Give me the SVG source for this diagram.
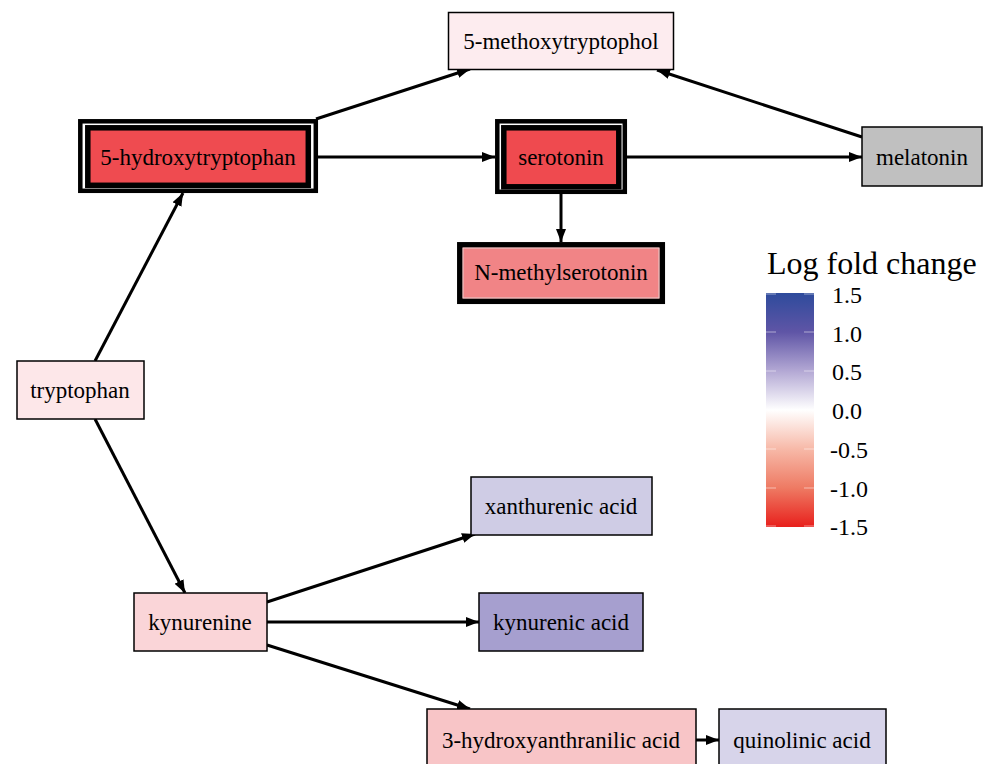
<svg xmlns="http://www.w3.org/2000/svg" width="997" height="764" viewBox="0 0 997 764">
<style>
.nb{stroke:#000;stroke-width:1.5}
.lbl{text-anchor:middle;dominant-baseline:central;font-size:46px}
.tk{dominant-baseline:central;font-size:48px}
.edge{stroke:#000;stroke-width:3;fill:none}
</style>
<defs>
<marker id="ah" markerUnits="userSpaceOnUse" markerWidth="14" markerHeight="12" viewBox="0 0 14 12" refX="13" refY="6" orient="auto">
<path d="M0,1 L13,6 L0,11 Z" fill="#000"/>
</marker>
<linearGradient id="lfc" x1="0" y1="0" x2="0" y2="1">
<stop offset="0" stop-color="#2e4b9c"/>
<stop offset="0.1667" stop-color="#5f55a6"/>
<stop offset="0.3333" stop-color="#b3a8d4"/>
<stop offset="0.5" stop-color="#ffffff"/>
<stop offset="0.6667" stop-color="#f7b9a8"/>
<stop offset="0.8333" stop-color="#ee7a63"/>
<stop offset="1" stop-color="#e8201c"/>
</linearGradient>
</defs>
<rect width="997" height="764" fill="#fff"/>
<g id="connectors">
<line class="edge" x1="316" y1="119" x2="470" y2="69" marker-end="url(#ah)"/>
<line class="edge" x1="862" y1="137" x2="657" y2="70" marker-end="url(#ah)"/>
<line class="edge" x1="318" y1="157" x2="495" y2="157" marker-end="url(#ah)"/>
<line class="edge" x1="627" y1="157" x2="862" y2="157" marker-end="url(#ah)"/>
<line class="edge" x1="561" y1="194" x2="561" y2="242" marker-end="url(#ah)"/>
<line class="edge" x1="95" y1="361" x2="183" y2="193" marker-end="url(#ah)"/>
<line class="edge" x1="95" y1="419" x2="185" y2="593" marker-end="url(#ah)"/>
<line class="edge" x1="267" y1="602" x2="475" y2="534" marker-end="url(#ah)"/>
<line class="edge" x1="267" y1="622" x2="479" y2="622" marker-end="url(#ah)"/>
<line class="edge" x1="267" y1="645" x2="470" y2="709" marker-end="url(#ah)"/>
<line class="edge" x1="696" y1="740" x2="719" y2="740" marker-end="url(#ah)"/>
</g>
<g font-family="Liberation Serif, Times New Roman, serif" fill="#000">
<g id="n-5methoxytryptophol">
<rect class="nb" x="448.5" y="12.5" width="225" height="57" fill="#fdecef"/>
<text class="lbl" transform="translate(561 41) scale(0.5)">5-methoxytryptophol</text>
</g>
<g id="n-5hydroxytryptophan">
<rect x="80.3" y="121.3" width="235.5" height="69.5" fill="#fff" stroke="#000" stroke-width="4.5"/>
<rect x="87.8" y="127.8" width="220.5" height="57.5" fill="#ef4b50" stroke="#000" stroke-width="5.5"/>
<text class="lbl" transform="translate(198 157) scale(0.5)">5-hydroxytryptophan</text>
</g>
<g id="n-serotonin">
<rect x="497.3" y="121.3" width="127.5" height="70.5" fill="#fff" stroke="#000" stroke-width="4.5"/>
<rect x="503.8" y="127.8" width="115" height="59" fill="#ef4a4f" stroke="#000" stroke-width="5.5"/>
<text class="lbl" transform="translate(561 157) scale(0.5)">serotonin</text>
</g>
<g id="n-melatonin">
<rect class="nb" x="862" y="127" width="120" height="59" fill="#c0c0c0"/>
<text class="lbl" transform="translate(922 157) scale(0.5)">melatonin</text>
</g>
<g id="n-nmethylserotonin">
<rect x="459.8" y="244.8" width="202.5" height="56.5" fill="#f18486" stroke="#000" stroke-width="5.5"/>
<rect x="463" y="248" width="196" height="50" fill="none" stroke="#e8e0e0" stroke-width="0.8"/>
<text class="lbl" transform="translate(561 272) scale(0.5)">N-methylserotonin</text>
</g>
<g id="n-tryptophan">
<rect class="nb" x="17" y="361" width="127" height="58" fill="#fde7e9"/>
<text class="lbl" transform="translate(80 390) scale(0.5)">tryptophan</text>
</g>
<g id="n-kynurenine">
<rect class="nb" x="134" y="593" width="133" height="58" fill="#fad5d8"/>
<text class="lbl" transform="translate(200 622) scale(0.5)">kynurenine</text>
</g>
<g id="n-xanthurenic">
<rect class="nb" x="471" y="477" width="181" height="58" fill="#cfcce5"/>
<text class="lbl" transform="translate(561 506) scale(0.5)">xanthurenic acid</text>
</g>
<g id="n-kynurenic">
<rect class="nb" x="479" y="593" width="164" height="58" fill="#a69fcf"/>
<text class="lbl" transform="translate(561 622) scale(0.5)">kynurenic acid</text>
</g>
<g id="n-3hydroxyanthranilic">
<rect class="nb" x="427" y="709" width="269" height="60" fill="#f8c5c7"/>
<text class="lbl" transform="translate(561 740) scale(0.5)">3-hydroxyanthranilic acid</text>
</g>
<g id="n-quinolinic">
<rect class="nb" x="719" y="709" width="167" height="60" fill="#d7d4ea"/>
<text class="lbl" transform="translate(802 740) scale(0.5)">quinolinic acid</text>
</g>
<g id="legend">
<text x="767" y="274" font-size="32">Log fold change</text>
<rect x="766" y="293" width="48" height="234" fill="url(#lfc)"/>
<g stroke="#fff" stroke-opacity="0.5" stroke-width="1">
<line x1="766" y1="294" x2="776" y2="294"/><line x1="804" y1="294" x2="814" y2="294"/>
<line x1="766" y1="332" x2="776" y2="332"/><line x1="804" y1="332" x2="814" y2="332"/>
<line x1="766" y1="371" x2="776" y2="371"/><line x1="804" y1="371" x2="814" y2="371"/>
<line x1="766" y1="410" x2="776" y2="410"/><line x1="804" y1="410" x2="814" y2="410"/>
<line x1="766" y1="449" x2="776" y2="449"/><line x1="804" y1="449" x2="814" y2="449"/>
<line x1="766" y1="488" x2="776" y2="488"/><line x1="804" y1="488" x2="814" y2="488"/>
<line x1="766" y1="526" x2="776" y2="526"/><line x1="804" y1="526" x2="814" y2="526"/>
</g>
<text class="tk" transform="translate(832 295) scale(0.5)">1.5</text>
<text class="tk" transform="translate(832 334) scale(0.5)">1.0</text>
<text class="tk" transform="translate(832 372) scale(0.5)">0.5</text>
<text class="tk" transform="translate(832 411) scale(0.5)">0.0</text>
<text class="tk" transform="translate(830 450) scale(0.5)">-0.5</text>
<text class="tk" transform="translate(830 489) scale(0.5)">-1.0</text>
<text class="tk" transform="translate(830 527) scale(0.5)">-1.5</text>
</g>
</g>
</svg>
